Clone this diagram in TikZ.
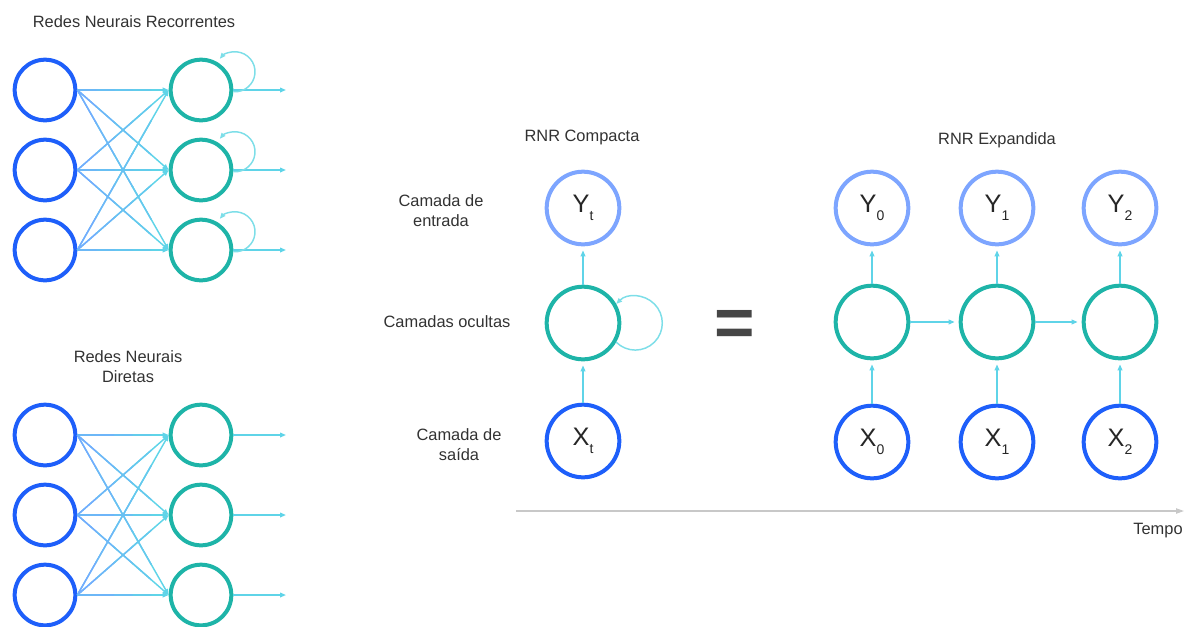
\documentclass[tikz,border=0pt]{standalone}
\usepackage{fontspec}
\setmainfont{Liberation Sans}
\usetikzlibrary{arrows.meta,calc}
\definecolor{inblue}{RGB}{30,95,250}
\definecolor{outblue}{RGB}{125,165,255}
\definecolor{hteal}{RGB}{30,180,168}
\definecolor{linkblue}{RGB}{115,170,255}
\definecolor{linkcyan}{RGB}{95,212,232}
\definecolor{loopcyan}{RGB}{125,222,232}
\definecolor{txt}{RGB}{50,50,50}
\definecolor{axisgray}{RGB}{200,200,200}
\newcommand\sublabel[2]{#1\raisebox{-6pt}{\fontsize{10.5}{10.5}\selectfont #2}}
\newcommand\gradlink[2]{%
  \draw[link] (#1) -- (#2);
  \foreach \k in {0,1,2,3}{%
    \pgfmathsetmacro\ka{\k*0.2}%
    \pgfmathsetmacro\kb{\k*0.2+0.21}%
    \pgfmathtruncatemacro\kp{100-25*\k}%
    \draw[line width=1.1pt, draw=linkblue!\kp!linkcyan] ($(#1)!\ka!(#2)$) -- ($(#1)!\kb!(#2)$);
  }%
}
\begin{document}
\begin{tikzpicture}[x=0.75pt,y=0.75pt,
  tip/.style={-{Triangle[length=4.5pt,width=3.5pt]}},
  smallin/.style={circle,draw=inblue,line width=3pt,minimum size=45.5pt,inner sep=0pt},
  smallhid/.style={circle,draw=hteal,line width=3pt,minimum size=45.5pt,inner sep=0pt},
  bigin/.style={circle,draw=inblue,line width=3pt,minimum size=54.5pt,inner sep=0pt,font=\fontsize{19}{19}\selectfont,text=black!85},
  bigout/.style={circle,draw=outblue,line width=3pt,minimum size=54.5pt,inner sep=0pt,font=\fontsize{19}{19}\selectfont,text=black!85},
  bighid/.style={circle,draw=hteal,line width=3pt,minimum size=54.5pt,inner sep=0pt},
  link/.style={tip,line width=1.1pt,draw=linkcyan},
  outlink/.style={tip,line width=1.1pt,draw=linkcyan},
  vlink/.style={tip,line width=1.1pt,draw=linkcyan,shorten >=3pt},
  loopst/.style={tip,line width=1.1pt,draw=loopcyan},
  label/.style={font=\fontsize{12.3}{15}\selectfont,text=txt,align=center,inner sep=0pt}
]
\useasboundingbox (0,0) rectangle (1184,-626);

% ---------- Recurrent network (top left)
\node[label] (t1) at (134,-22) {Redes Neurais Recorrentes};
\node[smallin] (i1) at (45,-90) {};
\node[smallin] (i2) at (45,-170) {};
\node[smallin] (i3) at (45,-250) {};
\node[smallhid] (h1) at (201,-90) {};
\node[smallhid] (h2) at (201,-170) {};
\node[smallhid] (h3) at (201,-250) {};
\foreach \a in {1,2,3}{\foreach \b in {1,2,3}{\gradlink{i\a.east}{h\b.west}}}
\foreach \b/\y in {1/-90,2/-170,3/-250}{
  \coordinate (ro\b) at (286,\y);
  \draw[outlink] (h\b.east) -- (ro\b);
  \draw[loopst] (h\b.-3) arc[start angle=-95,end angle=140,radius=15pt];
}

% ---------- Feed-forward network (bottom left)
\node[label] (t2) at (128,-367) {Redes Neurais\\Diretas};
\node[smallin] (j1) at (45,-435) {};
\node[smallin] (j2) at (45,-515) {};
\node[smallin] (j3) at (45,-595) {};
\node[smallhid] (g1) at (201,-435) {};
\node[smallhid] (g2) at (201,-515) {};
\node[smallhid] (g3) at (201,-595) {};
\foreach \a in {1,2,3}{\foreach \b in {1,2,3}{\gradlink{j\a.east}{g\b.west}}}
\foreach \b/\y in {1/-435,2/-515,3/-595}{
  \coordinate (fo\b) at (286,\y);
  \draw[outlink] (g\b.east) -- (fo\b);
}

% ---------- Compact RNN
\node[label] (tc) at (582,-137) {RNR Compacta};
\node[label] (l1) at (441,-211) {Camada de\\entrada};
\node[label] (l2) at (447,-322) {Camadas ocultas};
\node[label] (l3) at (459,-445) {Camada de\\saída};
\node[bigout] (Yt) at (583,-208) {\sublabel{Y}{t}};
\node[bighid] (hc) at (583,-323) {};
\node[bigin] (Xt) at (583,-441) {\sublabel{X}{t}};
\draw[vlink] (hc) -- (Yt);
\draw[vlink] (Xt) -- (hc);
\draw[loopst] (hc.-30) arc[start angle=-135,end angle=135,radius=20.25pt];

% ---------- equals sign
\node[font=\fontsize{52}{52}\selectfont\bfseries,text=txt!90,anchor=base,inner sep=0pt] (eq) at (735,-346) {=};

% ---------- Expanded RNN
\node[label] (te) at (997,-140) {RNR Expandida};
\foreach \i/\x in {0/872,1/997,2/1120}{
  \node[bigout] (Y\i) at (\x,-208) {\sublabel{Y}{\i}};
  \node[bighid] (H\i) at (\x,-322) {};
  \node[bigin] (X\i) at (\x,-442) {\sublabel{X}{\i}};
  \draw[vlink] (H\i) -- (Y\i);
  \draw[vlink] (X\i) -- (H\i);
}
\draw[vlink] (H0) -- (H1);
\draw[vlink] (H1) -- (H2);

% ---------- time axis
\coordinate (ax0) at (516,-511);
\coordinate (ax1) at (1184,-511);
\draw[axisgray,line width=1pt,-{Triangle[length=6pt,width=4pt]}] (ax0) -- (ax1);
\node[label] (tempo) at (1158,-531) {Tempo};
\end{tikzpicture}
\end{document}
